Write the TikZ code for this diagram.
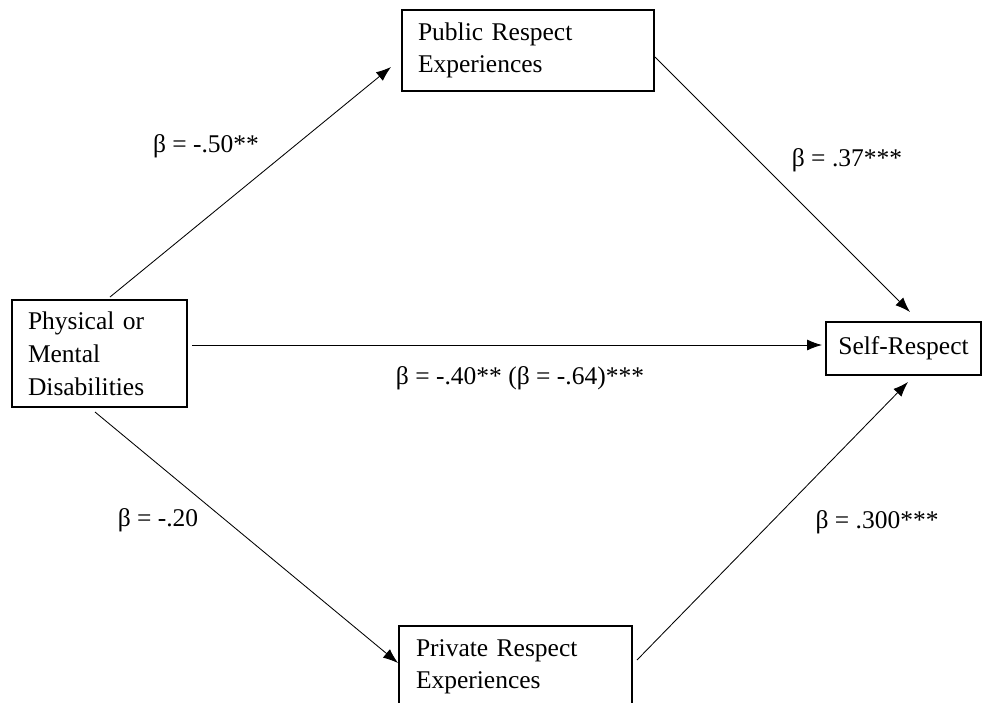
\documentclass[tikz,border=0pt]{standalone}
\usepackage{fontspec}
\setmainfont{Liberation Serif}
\usetikzlibrary{arrows.meta}
\begin{document}
\begin{tikzpicture}[x=1pt,y=-1pt,
  txt/.style={font=\fontsize{25.5}{32}\selectfont},
  box/.style={txt, draw, line width=1.3pt, inner ysep=0pt, align=left},
  lbl/.style={txt, inner sep=0pt},
  arr/.style={-{Latex[length=15pt,width=11pt]}, line width=0.85pt}]
\useasboundingbox[fill=white] (0,0) rectangle (983,702);

% boxes
\node[box, font=\fontsize{25.5}{33}\selectfont, inner xsep=16pt, text width=143pt, minimum height=107pt] (phys) at (99.5,353.5)
  {Physical or\\Mental\\Disabilities};
\node[box, inner xsep=16pt, text width=220pt, minimum height=81pt] (pub) at (528,50.5)
  {Public Respect\\Experiences};
\node[box, inner xsep=17pt, text width=199pt, minimum height=82pt] (priv) at (515.5,667)
  {Private Respect\\Experiences};
\node[box, align=center, inner xsep=0pt, text width=155pt, minimum height=53pt] (self) at (903.5,348.5)
  {Self-Respect};

% connector end points
\coordinate (a1s) at (110,297);
\coordinate (a1e) at (391,67);
\coordinate (a2s) at (655,57);
\coordinate (a2e) at (910,312);
\coordinate (a3s) at (192,345);
\coordinate (a3e) at (822,345);
\coordinate (a4s) at (95,412);
\coordinate (a4e) at (398,663);
\coordinate (a5s) at (637,660);
\coordinate (a5e) at (908,382);

\draw[arr] (a1s) -- (a1e);
\draw[arr] (a2s) -- (a2e);
\draw[arr] (a3s) -- (a3e);
\draw[arr] (a4s) -- (a4e);
\draw[arr] (a5s) -- (a5e);

% labels
\node[lbl] (l1) at (206,146) {β = -.50**};
\node[lbl] (l2) at (847,160) {β = .37***};
\node[lbl] (l3) at (520,378) {β = -.40** (β = -.64)***};
\node[lbl] (l4) at (158,520) {β = -.20};
\node[lbl] (l5) at (877,522) {β = .300***};
\end{tikzpicture}
\end{document}
